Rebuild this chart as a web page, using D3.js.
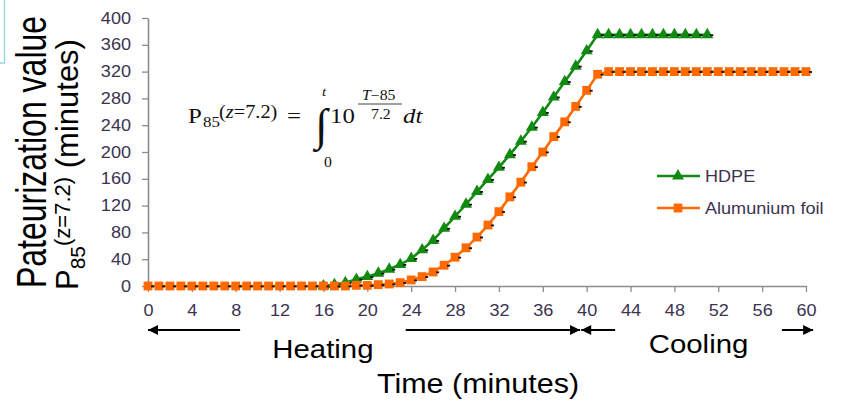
<!DOCTYPE html>
<html lang="en">
<head>
<meta charset="utf-8">
<script src="https://cdn.jsdelivr.net/npm/d3@7"></script>
<style>
  body { margin: 0; background: #fff; }
  text { font-family: "Liberation Sans", Arial, sans-serif; }
  .serif { font-family: "Liberation Serif", "Times New Roman", serif; }
</style>
</head>
<body>
<script>
// Data (minutes, P85 in minutes)
var hdpeTime  = [16,17,18,19,20,21,22,23,24,25,26,27,28,29,30,31,32,33,34,35,36,37,38,39,40,41,42,43,44,45,46,47,48,49,50,51];
var hdpeValue = [0,2,5,10,14,19,25,32,41,54,68,86,104,122,141,159,177,196,216,237,259,282,305,328,351,375,375,375,375,375,375,375,375,375,375,375];

var foilTime  = [0,1,2,3,4,5,6,7,8,9,10,11,12,13,14,15,16,17,18,19,20,21,22,23,24,25,26,27,28,29,30,31,32,33,34,35,36,37,38,39,40,41,42,43,44,45,46,47,48,49,50,51,52,53,54,55,56,57,58,59,60];
var foilValue = [0,0,0,0,0,0,0,0,0,0,0,0,0,0,0,0,0,0,0,1,1,2,3,5,9,14,21,31,43,57,73,91,111,133,155,178,200,223,245,268,292,316,320,320,320,320,320,320,320,320,320,320,320,320,320,320,320,320,320,320,320];

var xTicks = [0,4,8,12,16,20,24,28,32,36,40,44,48,52,56,60];
var yTicks = [0,40,80,120,160,200,240,280,320,360,400];

var seriesNames = ["HDPE", "Alumunium foil"];
var seriesColors = ["#118a11", "#ff6a00"];

// phases under the x axis: [start, end] of arrow, [gapStart, gapEnd] for label
var phaseNames = ["Heating", "Cooling"];
var phaseSpan = [[0, 39.4], [39.5, 60.65]];
var phaseGap = [[8.4, 23.5], [42.6, 57.8]];

var width = 841, height = 407;
var sx = 1.13; // the source picture is stretched horizontally

var svg = d3.select("body").append("svg")
  .attr("width", width)
  .attr("height", height);

var x = d3.scaleLinear().domain([0, 60]).range([148, 806]);
var y = d3.scaleLinear().domain([0, 400]).range([286, 18]);

// little slide frame corner top-left
svg.append("path")
  .attr("d", "M4.5,0V63H0")
  .attr("fill", "none")
  .attr("stroke", "#9fd6d6")
  .attr("stroke-width", 1.5);

function stretch(sel) {
  sel.each(function() {
    var t = d3.select(this);
    var tx = +t.attr("x") || 0, ty = +t.attr("y") || 0;
    t.attr("x", 0).attr("y", 0)
     .attr("transform", "translate(" + tx + "," + ty + ") scale(" + sx + ",1)");
  });
}

// axes
var yAxis = svg.append("g")
  .attr("transform", "translate(" + x(0) + ",0)")
  .call(d3.axisLeft(y).tickValues(yTicks).tickSize(6).tickSizeOuter(0).tickPadding(11));
var xAxis = svg.append("g")
  .attr("transform", "translate(0," + y(0) + ")")
  .call(d3.axisBottom(x).tickValues(xTicks).tickSize(6).tickSizeOuter(0).tickPadding(13));

[yAxis, xAxis].forEach(function(a) {
  a.select(".domain").attr("stroke", "#8c8c8c").attr("stroke-width", 1.6);
  a.selectAll(".tick line").attr("stroke", "#8c8c8c").attr("stroke-width", 1.3);
  a.selectAll(".tick text")
    .attr("fill", "#3b3350")
    .attr("font-size", 16)
    .attr("font-family", "Liberation Sans, Arial, sans-serif");
  a.selectAll(".tick text").each(function() {
    var t = d3.select(this);
    t.attr("transform", "translate(" + (+t.attr("x") || 0) + "," + (+t.attr("y") || 0) + ") scale(" + sx + ",1)")
     .attr("x", 0).attr("y", 0);
  });
});

// series
var series = [
  { t: hdpeTime, v: hdpeValue, color: seriesColors[0], shape: d3.symbolTriangle, size: 62 },
  { t: foilTime, v: foilValue, color: seriesColors[1], shape: d3.symbolSquare, size: 78 }
];

var line = d3.line()
  .x(function(d) { return x(d[0]); })
  .y(function(d) { return y(d[1]); });

series.forEach(function(s) {
  var pts = s.t.map(function(t, i) { return [t, s.v[i]]; });
  var g = svg.append("g");
  g.append("path")
    .attr("d", line(pts))
    .attr("fill", "none")
    .attr("stroke", s.color)
    .attr("stroke-width", 2.6);
  g.selectAll(".m").data(pts).enter().append("path")
    .attr("class", "m")
    .attr("transform", function(d) { return "translate(" + x(d[0]) + "," + y(d[1]) + ")"; })
    .attr("d", d3.symbol().type(s.shape).size(s.size))
    .attr("fill", s.color);
  // small dark marks next to the points
  g.selectAll(".k").data(pts).enter().append("rect")
    .attr("class", "k")
    .attr("x", function(d) { return x(d[0]) + 3; })
    .attr("y", function(d) { return y(d[1]) - 0.5; })
    .attr("width", 3)
    .attr("height", 1.8)
    .attr("fill", "#111");
});

// legend
var legY = [176, 208];
series.forEach(function(s, i) {
  svg.append("line")
    .attr("x1", 657).attr("x2", 700)
    .attr("y1", legY[i]).attr("y2", legY[i])
    .attr("stroke", s.color).attr("stroke-width", 2.6);
  svg.append("path")
    .attr("transform", "translate(678," + legY[i] + ")")
    .attr("d", d3.symbol().type(s.shape).size(s.size))
    .attr("fill", s.color);
  svg.append("text")
    .attr("x", 705).attr("y", legY[i] + 6)
    .attr("font-size", 16)
    .attr("fill", "#3b3350")
    .text(seriesNames[i])
    .call(stretch);
});

// heating / cooling arrows
var arrowY = 330;
svg.append("defs").selectAll("marker").data(["end", "start"]).enter().append("marker")
  .attr("id", function(d) { return "arr-" + d; })
  .attr("viewBox", "0 0 10 10")
  .attr("refX", function(d) { return d === "end" ? 10 : 0; })
  .attr("refY", 5)
  .attr("markerWidth", 11)
  .attr("markerHeight", 10)
  .attr("markerUnits", "userSpaceOnUse")
  .attr("orient", "auto")
  .append("path")
  .attr("d", function(d) { return d === "end" ? "M0,0L10,5L0,10z" : "M10,0L0,5L10,10z"; })
  .attr("fill", "#000");

phaseNames.forEach(function(name, i) {
  svg.append("line")
    .attr("x1", x(phaseSpan[i][0])).attr("x2", x(phaseGap[i][0]))
    .attr("y1", arrowY).attr("y2", arrowY)
    .attr("stroke", "#000").attr("stroke-width", 2)
    .attr("marker-start", "url(#arr-start)");
  svg.append("line")
    .attr("x1", x(phaseGap[i][1])).attr("x2", x(phaseSpan[i][1]))
    .attr("y1", arrowY).attr("y2", arrowY)
    .attr("stroke", "#000").attr("stroke-width", 2)
    .attr("marker-end", "url(#arr-end)");
  svg.append("text")
    .attr("x", x((phaseGap[i][0] + phaseGap[i][1]) / 2))
    .attr("y", i === 0 ? 358 : 353)
    .attr("text-anchor", "middle")
    .attr("font-size", 26)
    .attr("fill", "#000")
    .text(name)
    .call(stretch);
});

// x title
svg.append("text")
  .attr("x", 478).attr("y", 393)
  .attr("text-anchor", "middle")
  .attr("font-size", 27)
  .attr("fill", "#000")
  .text("Time (minutes)")
  .call(stretch);

// y titles
svg.append("text")
  .attr("transform", "translate(46,152) rotate(-90) scale(1,1.3)")
  .attr("text-anchor", "middle")
  .attr("font-size", 32)
  .attr("fill", "#000")
  .text("Pateurization value");

var yt2 = svg.append("text")
  .attr("transform", "translate(78,290) rotate(-90)")
  .attr("font-size", 31)
  .attr("fill", "#000");
yt2.append("tspan").text("P");
yt2.append("tspan").attr("font-size", 21).attr("dy", 7).text("85");
yt2.append("tspan").attr("font-size", 22).attr("dy", -15).text("(z=7.2)");
yt2.append("tspan").attr("dy", 8).text(" (minutes)");

// formula
var f = svg.append("g").attr("class", "serif");
function ft(s, px, py, size, italic) {
  return f.append("text")
    .attr("class", "serif")
    .attr("x", px).attr("y", py)
    .attr("font-size", size)
    .attr("font-style", italic ? "italic" : "normal")
    .attr("fill", "#111")
    .text(s)
    .call(stretch);
}
ft("P", 188, 123, 22);
ft("85", 203, 127, 15);
var sup = ft("(", 219, 118, 18);
sup.text(null);
sup.append("tspan").text("(");
sup.append("tspan").attr("font-style", "italic").text("z");
sup.append("tspan").text("=7.2)");
ft("=", 287, 123, 22);
f.append("text")
  .attr("class", "serif")
  .attr("x", 315).attr("y", 140)
  .attr("font-size", 45)
  .attr("fill", "#111")
  .text("\u222B");
ft("t", 322, 96, 13, true);
ft("0", 324, 167, 14);
ft("10", 330, 123, 22);
var num = ft("T", 362, 100, 14, true);
num.append("tspan").attr("font-style", "normal").text("\u2212" + "85");
f.append("line")
  .attr("x1", 358).attr("x2", 402)
  .attr("y1", 104).attr("y2", 104)
  .attr("stroke", "#111").attr("stroke-width", 0.8);
ft("7.2", 371, 119, 14);
ft("dt", 403, 123, 22, true);
</script>
</body>
</html>
